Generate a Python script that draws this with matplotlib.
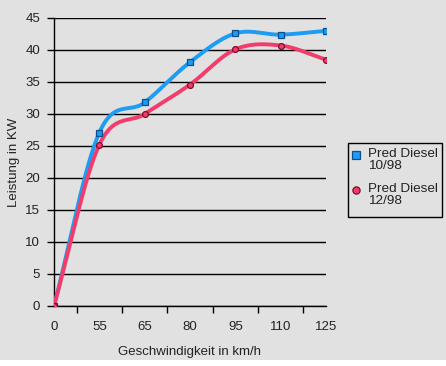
import numpy as np
import matplotlib
matplotlib.use('Agg')
import matplotlib.pyplot as plt
from matplotlib.lines import Line2D
from matplotlib.patches import Rectangle

speeds = ['0', '55', '65', '80', '95', '110', '125']
diesel_1098 = [0, 27.1, 31.8, 38.1, 42.6, 42.4, 43.0]
diesel_1298 = [0, 25.2, 30.0, 34.6, 40.1, 40.7, 38.5]
labels = ['Pred Diesel\n10/98', 'Pred Diesel\n12/98']

plt.rcParams['font.family'] = ['Liberation Sans', 'DejaVu Sans']
BG = '#e1e1e1'
TXT = '#222222'


def smooth(xs, ys, n=30):
    # catmull-rom curve through the points, like a spreadsheet smoothed line
    xs = np.asarray(xs, float)
    ys = np.asarray(ys, float)
    px = np.concatenate([[2 * xs[0] - xs[1]], xs, [2 * xs[-1] - xs[-2]]])
    py = np.concatenate([[2 * ys[0] - ys[1]], ys, [2 * ys[-1] - ys[-2]]])
    out_x, out_y = [], []
    t = np.linspace(0, 1, n)
    for i in range(1, len(px) - 2):
        for p, out in ((px, out_x), (py, out_y)):
            p0, p1, p2, p3 = p[i - 1], p[i], p[i + 1], p[i + 2]
            out.extend(0.5 * (2 * p1 + (-p0 + p2) * t
                              + (2 * p0 - 5 * p1 + 4 * p2 - p3) * t ** 2
                              + (-p0 + 3 * p1 - 3 * p2 + p3) * t ** 3))
    return out_x, out_y


fig = plt.figure(figsize=(4.46, 3.66), dpi=100, facecolor=BG)
# thin white strip under the gray panel
fig.add_artist(Rectangle((0, 0), 1, 6 / 366, transform=fig.transFigure,
                         facecolor='white', edgecolor='none'))
ax = fig.add_axes([54 / 446, 1 - 306 / 366, 272 / 446, 288 / 366], facecolor=BG)

x = np.arange(len(speeds))
series = [
    (diesel_1098, '#1c9cf2', 's', '#0b4f8f', 4.8),
    (diesel_1298, '#f23d6c', 'o', '#7a0f2c', 4.2),
]
for vals, col, mk, edge, ms in series:
    sx, sy = smooth(x, vals)
    ax.plot(sx, sy, color=col, lw=2.8, solid_capstyle='round', zorder=3)
    ax.plot(x, vals, ls='none', marker=mk, ms=ms, mfc=col, mec=edge, mew=0.9, zorder=4)

ax.set_xlim(0, 6)
ax.set_ylim(0, 45)
ax.set_yticks(range(0, 46, 5))
ax.set_xticks(x)
ax.set_xticklabels(speeds)
ax.set_xticks(x[:-1] + 0.5, minor=True)
ax.tick_params(axis='x', which='major', length=0, pad=10.5, labelsize=9.5, colors=TXT)
ax.tick_params(axis='x', which='minor', length=5, width=1, color='black')
ax.tick_params(axis='y', length=5, width=1, pad=5, labelsize=9.5, labelcolor=TXT, color='black')
ax.grid(axis='y', color='black', lw=1)
ax.set_axisbelow(True)
for s in ('top', 'right'):
    ax.spines[s].set_visible(False)
for s in ('left', 'bottom'):
    ax.spines[s].set_color('black')
    ax.spines[s].set_linewidth(1)

ax.set_xlabel('Geschwindigkeit in km/h', fontsize=9.5, color=TXT, labelpad=10)
ax.set_ylabel('Leistung in KW', fontsize=9.5, color=TXT, labelpad=3.5)

# legend box drawn by hand so the marker sits on the first text line
fig.add_artist(Rectangle((348 / 446, 1 - 217 / 366), 94 / 446, 74 / 366,
                         transform=fig.transFigure, facecolor=BG,
                         edgecolor='black', lw=1))
for (vals, col, mk, edge, ms), lab, y0 in zip(series, labels, (155, 190)):
    fig.add_artist(Line2D([356 / 446], [1 - y0 / 366], transform=fig.transFigure,
                          ls='none', marker=mk, ms=5.2, mfc=col, mec=edge, mew=0.9))
    fig.text(368 / 446, 1 - (y0 - 7) / 366, lab, fontsize=9.7, color=TXT,
             va='top', ha='left', linespacing=1.05)

fig.savefig('out.png', dpi=100, facecolor=BG)
